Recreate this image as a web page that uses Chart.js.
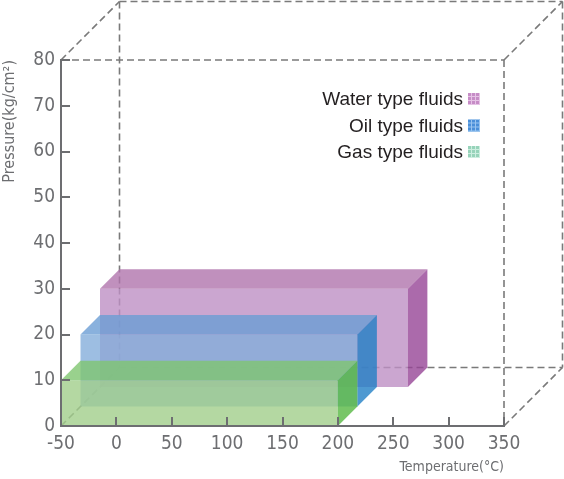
<!DOCTYPE html>
<html>
<head>
<meta charset="utf-8">
<title>Fluid ranges</title>
<script src="https://cdn.jsdelivr.net/npm/chart.js@4.4.1/dist/chart.umd.min.js"></script>
<style>
	html, body { margin: 0; padding: 0; background: #fff; }
	#wrap { width: 564px; height: 479px; }
</style>
</head>
<body>
<div id="wrap"><canvas id="myChart" width="564" height="479"></canvas></div>
<script>
// data (front to back)
const fluidTypes = ["Gas type fluids", "Oil type fluids", "Water type fluids"];
const tempMin = [-50, -50, -50];
const tempMax = [200, 200, 228];
const pressureMin = [0, 0, 0];
const pressureMax = [10, 20, 30];

const tempTicks = [-50, 0, 50, 100, 150, 200, 250, 300, 350];
const pressureTicks = [0, 10, 20, 30, 40, 50, 60, 70, 80];

// styles
const NARROW = "'Liberation Sans Narrow', 'DejaVu Sans Condensed', sans-serif";
const AXIS_GREY = "#6d6e71";
const FRAME_GREY = "#7a7a7a";
const DEPTH = 58.5;   // whole frame depth in px
const SLOT = 19.5;    // depth of one box

const faceColors = [
	{ front: "rgba(161,206,139,0.8)", top: "rgba(128,198,113,0.8)", side: "rgba(86,184,66,0.8)" },
	{ front: "rgba(133,174,219,0.8)", top: "rgba(108,158,212,0.8)", side: "rgba(34,128,198,0.8)" },
	{ front: "rgba(190,144,196,0.8)", top: "rgba(176,116,172,0.8)", side: "rgba(150,69,150,0.8)" }
];
const legendColors = [
	{ base: "#97d3ba", line: "#cdeee0" },
	{ base: "#4a8fd9", line: "#98c4f0" },
	{ base: "#c68cc6", line: "#e6c3e6" }
];


function poly(ctx, pts, fill) {
	ctx.beginPath();
	ctx.moveTo(pts[0][0], pts[0][1]);
	for (let i = 1; i < pts.length; i++) ctx.lineTo(pts[i][0], pts[i][1]);
	ctx.closePath();
	ctx.fillStyle = fill;
	ctx.fill();
}

function line(ctx, x0, y0, x1, y1) {
	ctx.beginPath();
	ctx.moveTo(x0, y0);
	ctx.lineTo(x1, y1);
	ctx.stroke();
}


const boxPlugin = {
	id: "boxes3d",

	beforeDraw(chart) {
		const ctx = chart.ctx;
		const a = chart.chartArea;
		const xs = chart.scales.x;
		const ys = chart.scales.y;

		// dashed "room" behind the boxes
		ctx.save();
		ctx.strokeStyle = FRAME_GREY;
		ctx.lineWidth = 1.6;
		ctx.setLineDash([7, 4]);
		line(ctx, a.left, a.top, a.right, a.top);
		line(ctx, a.right, a.top, a.right, a.bottom);
		line(ctx, a.left + DEPTH, a.top - DEPTH, a.right + DEPTH, a.top - DEPTH);
		line(ctx, a.right + DEPTH, a.top - DEPTH, a.right + DEPTH, a.bottom - DEPTH);
		line(ctx, a.left + DEPTH, a.bottom - DEPTH, a.right + DEPTH, a.bottom - DEPTH);
		line(ctx, a.left + DEPTH, a.top - DEPTH, a.left + DEPTH, a.bottom - DEPTH);
		line(ctx, a.left, a.top, a.left + DEPTH, a.top - DEPTH);
		line(ctx, a.right, a.top, a.right + DEPTH, a.top - DEPTH);
		line(ctx, a.right, a.bottom, a.right + DEPTH, a.bottom - DEPTH);
		line(ctx, a.left, a.bottom, a.left + DEPTH, a.bottom - DEPTH);
		ctx.restore();

		// boxes, back one first
		for (let i = fluidTypes.length - 1; i >= 0; i--) {
			const off = i * SLOT;
			const x0 = xs.getPixelForValue(tempMin[i]) + off;
			const x1 = xs.getPixelForValue(tempMax[i]) + off;
			const yTop = ys.getPixelForValue(pressureMax[i]);
			const yBot = ys.getPixelForValue(pressureMin[i]) - off;
			const d = SLOT;
			const c = faceColors[i];

			poly(ctx, [[x0, yTop], [x1, yTop], [x1, yBot], [x0, yBot]], c.front);
			poly(ctx, [[x0, yTop], [x1, yTop], [x1 + d, yTop - d], [x0 + d, yTop - d]], c.top);
			poly(ctx, [[x1, yTop], [x1 + d, yTop - d], [x1 + d, yBot - d], [x1, yBot]], c.side);
		}
	},

	afterDraw(chart) {
		const ctx = chart.ctx;
		const a = chart.chartArea;
		const xs = chart.scales.x;
		const ys = chart.scales.y;

		// tick marks pointing inwards
		ctx.save();
		ctx.strokeStyle = AXIS_GREY;
		ctx.lineWidth = 2;
		for (const v of tempTicks) {
			const x = Math.round(xs.getPixelForValue(v));
			line(ctx, x, a.bottom, x, a.bottom - 9);
		}
		for (const v of pressureTicks) {
			const y = Math.round(ys.getPixelForValue(v));
			line(ctx, a.left, y, a.left + 9, y);
		}
		ctx.restore();

		// legend, square on the right of the text
		ctx.save();
		ctx.font = "19px 'Liberation Sans', Arial, sans-serif";
		ctx.textAlign = "right";
		ctx.textBaseline = "middle";
		const rows = [2, 1, 0];
		rows.forEach((i, r) => {
			const cy = 99 + r * 26.5;
			ctx.fillStyle = "#231f20";
			ctx.fillText(fluidTypes[i], 463, cy + 1);
			const sx = 468, sy = cy - 6, s = 12;
			ctx.fillStyle = legendColors[i].base;
			ctx.fillRect(sx, sy, s, s);
			ctx.strokeStyle = legendColors[i].line;
			ctx.lineWidth = 1;
			for (let k = 3; k < s; k += 4) {
				line(ctx, sx + k + 0.5, sy, sx + k + 0.5, sy + s);
				line(ctx, sx, sy + k + 0.5, sx + s, sy + k + 0.5);
			}
		});
		ctx.restore();
	}
};


new Chart("myChart", {
	type: "scatter",
	data: { datasets: [] },
	options: {
		responsive: false,
		animation: false,
		layout: { padding: { left: 0, top: 60, right: 60, bottom: 0 } },
		plugins: {
			legend: { display: false },
			tooltip: { enabled: false }
		},
		scales: {
			x: {
				type: "linear",
				min: -50,
				max: 350,
				afterFit: (s) => { s.height = 53; },
				afterBuildTicks: (s) => { s.ticks = tempTicks.map(v => ({ value: v })); },
				grid: { display: false, drawTicks: false },
				border: { display: true, color: AXIS_GREY, width: 2 },
				ticks: {
					autoSkip: false,
					maxRotation: 0,
					padding: 7,
					color: AXIS_GREY,
					font: { family: NARROW, size: 19 }
				},
				title: {
					display: true,
					text: "Temperature(°C)",
					align: "end",
					color: AXIS_GREY,
					padding: { top: 0, bottom: 3 },
					font: { family: NARROW, size: 14 }
				}
			},
			y: {
				type: "linear",
				min: 0,
				max: 80,
				afterFit: (s) => { s.width = 61; },
				afterBuildTicks: (s) => { s.ticks = pressureTicks.map(v => ({ value: v })); },
				grid: { display: false, drawTicks: false },
				border: { display: true, color: AXIS_GREY, width: 2 },
				ticks: {
					padding: 6,
					color: AXIS_GREY,
					font: { family: NARROW, size: 19 }
				},
				title: {
					display: true,
					text: "Pressure(kg/cm²)",
					align: "end",
					color: AXIS_GREY,
					padding: { top: 0, bottom: 0 },
					font: { family: NARROW, size: 16 }
				}
			}
		}
	},
	plugins: [boxPlugin]
});
</script>
</body>
</html>
